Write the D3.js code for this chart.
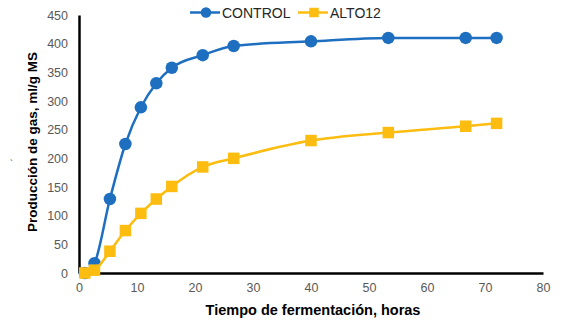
<!DOCTYPE html>
<html>
<head>
<meta charset="utf-8">
<script src="https://cdn.jsdelivr.net/npm/d3@7"></script>
<style>
  body { margin: 0; background: #fff; }
  svg { display: block; font-family: Arial, "Liberation Sans", sans-serif; }
</style>
</head>
<body>
<div id="chart"></div>
<script>
// datos
const horas   = [1, 2.67, 5.33, 8, 10.67, 13.33, 16, 21.33, 26.67, 40, 53.33, 66.67, 72];
const control = [0, 17, 129, 225, 289, 331, 358, 380, 396, 404, 410, 410, 410];
const alto12  = [0, 5, 38, 74, 104, 129, 151, 185, 200, 231, 245, 256, 261];
const xTicks = [0, 10, 20, 30, 40, 50, 60, 70, 80];
const yTicks = [0, 50, 100, 150, 200, 250, 300, 350, 400, 450];

const width = 566, height = 322;
const margin = { top: 15, right: 23, bottom: 49, left: 79 };

const svg = d3.select("#chart").append("svg")
  .attr("width", width)
  .attr("height", height);

const x = d3.scaleLinear().domain([0, 80]).range([margin.left, width - margin.right]);
const y = d3.scaleLinear().domain([0, 450]).range([height - margin.bottom, margin.top]);

// ejes
const gx = svg.append("g")
  .attr("transform", "translate(0," + y(0) + ")")
  .call(d3.axisBottom(x).tickValues(xTicks).tickSize(0).tickPadding(10));
gx.select(".domain").attr("stroke", "#000").attr("stroke-width", 2.5);
gx.selectAll("text").attr("font-size", 12.5).attr("fill", "#595959").attr("font-family", "Arial");

const gy = svg.append("g")
  .attr("transform", "translate(" + x(0) + ",0)")
  .call(d3.axisLeft(y).tickValues(yTicks).tickSize(0).tickPadding(11));
gy.select(".domain").attr("stroke", "#000").attr("stroke-width", 2.5);
gy.selectAll("text").attr("font-size", 12.5).attr("fill", "#595959").attr("font-family", "Arial");

const series = [
  { name: "CONTROL", values: control, color: "#1f6fc0", shape: "circle" },
  { name: "ALTO12", values: alto12, color: "#fcbd10", shape: "square" }
];

const line = d3.line()
  .x(d => x(d[0]))
  .y(d => y(d[1]))
  .curve(d3.curveMonotoneX);

function drawMarker(g, shape, cx, cy, color, size) {
  if (shape === "circle") {
    g.append("circle").attr("cx", cx).attr("cy", cy).attr("r", size / 2 + 0.5).attr("fill", color);
  } else {
    g.append("rect").attr("x", cx - size / 2).attr("y", cy - size / 2)
      .attr("width", size).attr("height", size).attr("fill", color);
  }
}

series.forEach(s => {
  const pts = horas.map((h, i) => [h, s.values[i]]);
  const g = svg.append("g");
  g.append("path")
    .datum(pts)
    .attr("fill", "none")
    .attr("stroke", s.color)
    .attr("stroke-width", 2.5)
    .attr("d", line);
  pts.forEach(p => drawMarker(g, s.shape, x(p[0]), y(p[1]), s.color, 11.5));
});

// leyenda
let legX = 190, legY = 12.5;
series.forEach((s, i) => {
  const lx = legX + i * 108;
  svg.append("line")
    .attr("x1", lx).attr("x2", lx + 30)
    .attr("y1", legY).attr("y2", legY)
    .attr("stroke", s.color).attr("stroke-width", 2.5);
  drawMarker(svg, s.shape, lx + 16, legY, s.color, 9.5);
  svg.append("text")
    .attr("x", lx + 32)
    .attr("y", legY + 5)
    .attr("font-size", 14)
    .attr("fill", "#262626")
    .text(s.name);
});

// etiqueta eje X
svg.append("text")
  .attr("text-anchor", "middle")
  .attr("x", 313)
  .attr("y", 315)
  .attr("font-size", 14.5)
  .attr("font-weight", "bold")
  .attr("fill", "#000")
  .text("Tiempo de fermentación, horas");

// etiqueta eje Y
svg.append("text")
  .attr("text-anchor", "middle")
  .attr("transform", "translate(37,142) rotate(-90)")
  .attr("font-size", 13.5)
  .attr("font-weight", "bold")
  .attr("fill", "#000")
  .text("Producción de gas, ml/g MS");

// pequeña marca suelta a la izquierda
svg.append("text")
  .attr("x", 10)
  .attr("y", 166)
  .attr("font-size", 9)
  .attr("fill", "#333")
  .text("`");
</script>
</body>
</html>
